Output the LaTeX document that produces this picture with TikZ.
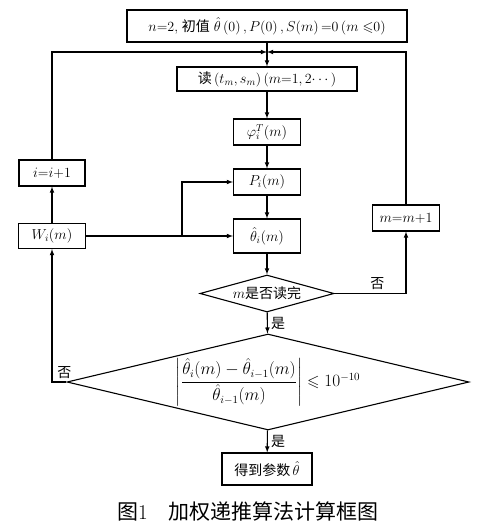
\documentclass[tikz,border=0pt]{standalone}
\usepackage{amsmath}
\usepackage{amssymb}
\usepackage{fontspec}
\usetikzlibrary{arrows,shapes.geometric}
\newfontfamily\cjk{Noto Sans CJK SC}
\newcommand{\zh}[1]{{\cjk #1}}

\begin{document}
\begin{tikzpicture}[x=1pt,y=-1pt,
  box/.style={draw,line width=1.1pt,inner sep=0pt,minimum height=26pt,font=\fontsize{14}{16}\selectfont},
  choice/.style={draw,diamond,line width=1.1pt,inner sep=0pt,font=\fontsize{14}{16}\selectfont},
  arr/.style={line width=1.1pt,-latex},
  line/.style={line width=1.1pt},
  tag/.style={font=\fontsize{14}{16}\selectfont}]
\useasboundingbox (0,0) rectangle (495,530);
% main column
\node[box,minimum width=280pt,minimum height=32pt] (init) at (267,26) {$n$=2,\;\zh{初值}\;$\hat{\theta}$\,(0)\,,\,$P$(0)\,,\,$S$($m$)\,=0\,($m\leqslant$0)};
\coordinate (j) at (267,52);
\node[box,minimum width=180pt,minimum height=24pt] (read) at (267,79) {\zh{读}\,($t_m$,\,$s_m$)\,($m$=1,\,2$\cdots$)};
\node[box,minimum width=67pt] (phi) at (267,132) {$\varphi_i^T(m)$};
\node[box,minimum width=67pt] (P) at (267,182) {$P_i(m)$};
\node[box,minimum width=67pt,minimum height=34pt] (th) at (267,236) {$\hat{\theta}_i(m)$};
\node[choice,aspect=3.6,minimum width=134pt,minimum height=37pt] (d1) at (267,293.5) {$m$\zh{是否读完}};
\node[choice,aspect=4.2,minimum width=402pt,minimum height=96pt,font=\fontsize{16}{18}\selectfont] (d2) at (268,382) {$\left|\dfrac{\hat{\theta}_i(m)-\hat{\theta}_{i-1}(m)}{\hat{\theta}_{i-1}(m)}\right|\leqslant 10^{-10}$};
\node[box,minimum width=90pt,minimum height=32pt] (res) at (267,469) {\zh{得到参数}\,$\hat{\theta}$};
% side boxes
\node[box,minimum width=66pt] (inc) at (52,173) {$i$=$i$+1};
\node[box,minimum width=67pt,minimum height=25pt] (W) at (52,236) {$W_i(m)$};
\node[box,minimum width=67pt] (mm) at (406,218) {$m$=$m$+1};
\coordinate (br) at (182,236);
% connectors
\draw[arr] (init) -- (read);
\draw[arr] (inc) |- (j);
\draw[arr] (mm) |- (j);
\draw[arr] (read) -- (phi);
\draw[arr] (phi) -- (P);
\draw[arr] (P) -- (th);
\draw[arr] (th) -- (d1);
\draw[arr] (W) -- (th);
\draw[arr] (br) |- (P);
\draw[arr] (W) -- (inc);
\draw[arr] (d1) -| node[tag,pos=0.3,above]{\zh{否}} (mm);
\draw[arr] (d1) -- node[tag,right]{\zh{是}} (d2);
\draw[arr] (d2) -| node[tag,pos=0.45,above right]{\zh{否}} (W);
\draw[arr] (d2) -- node[tag,right]{\zh{是}} (res);
\node[font=\fontsize{21}{25}\selectfont] (cap) at (248,512) {\zh{图}1\quad\zh{加权递推算法计算框图}};
\end{tikzpicture}
\end{document}
